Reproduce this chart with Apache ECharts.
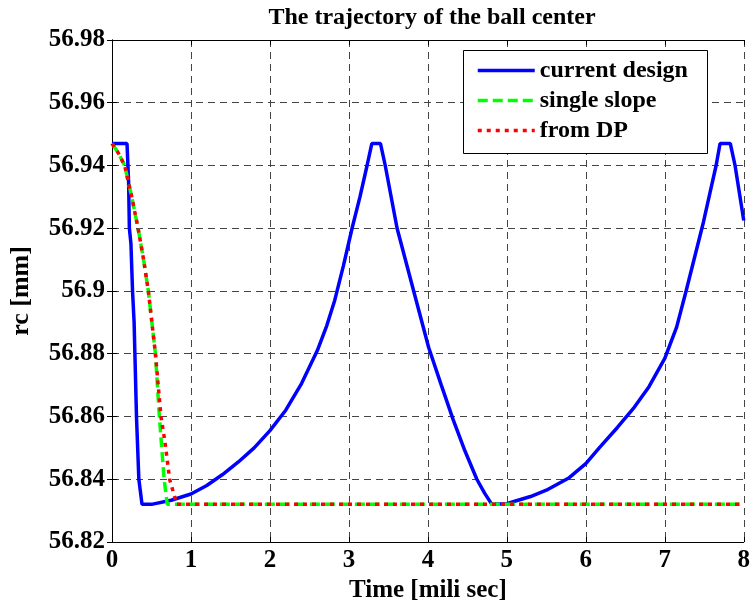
<!DOCTYPE html>
<html><head><meta charset="utf-8">
<script src="https://cdn.jsdelivr.net/npm/echarts@6/dist/echarts.min.js"></script>
<style>html,body{margin:0;padding:0;background:#fff}#c{width:753px;height:609px}</style>
</head><body><div id="c"></div>
<script>
const titleText = 'The trajectory of the ball center';
const xName = 'Time [mili sec]';
const yName = 'rc [mm]';
const xTickLabels = ['0','1','2','3','4','5','6','7','8'];
const yTickLabels = ['56.82','56.84','56.86','56.88','56.9','56.92','56.94','56.96','56.98'];
const seriesNames = ['current design','single slope','from DP'];

const currentT = [0, 0.19, 0.21, 0.22, 0.24, 0.26, 0.28, 0.29, 0.31, 0.34, 0.36, 0.38, 0.5, 0.75, 1.0, 1.2, 1.4, 1.6, 1.8, 2.0, 2.2, 2.4, 2.6, 2.72, 2.82, 2.93, 3.04, 3.14, 3.23, 3.29, 3.40, 3.46, 3.61, 3.82, 4.01, 4.17, 4.32, 4.47, 4.62, 4.72, 4.81, 5.0, 5.1, 5.3, 5.5, 5.79, 6.0, 6.17, 6.4, 6.6, 6.8, 7.0, 7.15, 7.27, 7.38, 7.49, 7.57, 7.65, 7.70, 7.83, 7.89, 8.0];
const currentV = [56.947, 56.947, 56.935, 56.92, 56.915, 56.90, 56.89, 56.88, 56.86, 56.84, 56.836, 56.832, 56.832, 56.8333, 56.8353, 56.838, 56.8415, 56.8455, 56.850, 56.8555, 56.862, 56.8705, 56.881, 56.889, 56.897, 56.908, 56.92, 56.93, 56.94, 56.947, 56.947, 56.94, 56.92, 56.90, 56.882, 56.87, 56.859, 56.849, 56.840, 56.8355, 56.832, 56.8322, 56.833, 56.8345, 56.8365, 56.8405, 56.845, 56.850, 56.8565, 56.8625, 56.8695, 56.8785, 56.8885, 56.90, 56.911, 56.922, 56.931, 56.94, 56.947, 56.947, 56.94, 56.9225];

const slopeT = [0, 0.08, 0.16, 0.25, 0.33, 0.40, 0.46, 0.55, 0.60, 0.66, 0.70, 8];
const slopeV = [56.947, 56.944, 56.94, 56.93, 56.92, 56.91, 56.90, 56.88, 56.86, 56.84, 56.832, 56.832];

const dpT = [0, 0.08, 0.16, 0.25, 0.33, 0.40, 0.46, 0.55, 0.62, 0.67, 0.73, 0.82, 8];
const dpV = [56.947, 56.944, 56.94, 56.93, 56.92, 56.91, 56.90, 56.88, 56.86, 56.852, 56.84, 56.832, 56.832];

const FONT = "'Liberation Serif', 'Times New Roman', serif";
const pairs = (t, v) => t.map((x, i) => [x, v[i]]);
const yFmt = v => yTickLabels[Math.round((v - 56.82) / 0.02)] || '';
const xFmt = v => xTickLabels[Math.round(v)] || '';
const gridDash = {show: true, lineStyle: {color: '#444', width: 1, type: [7, 5]}};
const blackLine = {show: true, lineStyle: {color: '#000', width: 1}};
const tick = {show: true, inside: true, length: 5, lineStyle: {color: '#000', width: 1}};
const txt = size => ({fontFamily: FONT, fontWeight: 'bold', fontSize: size, color: '#000'});

const chart = echarts.init(document.getElementById('c'), null, {renderer: 'canvas'});
chart.setOption({
  animation: false,
  backgroundColor: '#fff',
  title: {
    text: titleText, left: 427, top: 1, textAlign: 'center',
    textStyle: txt(24)
  },
  grid: {left: 110, right: 8, top: 40, bottom: 67, containLabel: false},
  xAxis: [
    {type: 'value', min: 0, max: 8, interval: 1, position: 'bottom',
     axisLine: blackLine, axisTick: tick, splitLine: gridDash,
     axisLabel: Object.assign({margin: 6, formatter: xFmt}, txt(25)),
     name: xName, nameLocation: 'middle', nameGap: 36,
     nameTextStyle: txt(25)},
    {type: 'value', min: 0, max: 8, interval: 1, position: 'top',
     axisLine: blackLine, axisTick: tick, splitLine: {show: false}, axisLabel: {show: false}}
  ],
  yAxis: [
    {type: 'value', min: 56.82, max: 56.98, interval: 0.02, position: 'left',
     axisLine: blackLine, axisTick: tick, splitLine: gridDash,
     axisLabel: Object.assign({margin: 7, formatter: yFmt}, txt(25)),
     name: yName, nameLocation: 'middle', nameGap: 78,
     nameTextStyle: txt(26)},
    {type: 'value', min: 56.82, max: 56.98, interval: 0.02, position: 'right',
     axisLine: blackLine, axisTick: tick, splitLine: {show: false}, axisLabel: {show: false}}
  ],
  graphic: [{
    type: 'rect', z: 3,
    shape: {x: 463.5, y: 50.5, width: 244, height: 103},
    style: {fill: '#fff', stroke: '#000', lineWidth: 1}
  }],
  legend: {
    data: seriesNames, orient: 'vertical', left: 476, top: 58, padding: 0,
    itemWidth: 57, itemHeight: 14, itemGap: 5, z: 10,
    itemStyle: {color: 'rgba(0,0,0,0)', borderWidth: 0, opacity: 0},
    lineStyle: {width: 3.5},
    textStyle: Object.assign({lineHeight: 25}, txt(24))
  },
  series: [
    {name: seriesNames[0], type: 'line', data: pairs(currentT, currentV), symbol: 'none', z: 2,
     lineStyle: {color: '#0000ff', width: 3.5, type: 'solid'}, itemStyle: {color: '#0000ff'}},
    {name: seriesNames[1], type: 'line', data: pairs(slopeT, slopeV), symbol: 'none', z: 3,
     lineStyle: {color: '#00ff00', width: 3.5, type: [10, 5]}, itemStyle: {color: '#00ff00'}},
    {name: seriesNames[2], type: 'line', data: pairs(dpT, dpV), symbol: 'none', z: 4,
     lineStyle: {color: '#ff0000', width: 3.5, type: [4, 5]}, itemStyle: {color: '#ff0000'}}
  ]
});
</script></body></html>
